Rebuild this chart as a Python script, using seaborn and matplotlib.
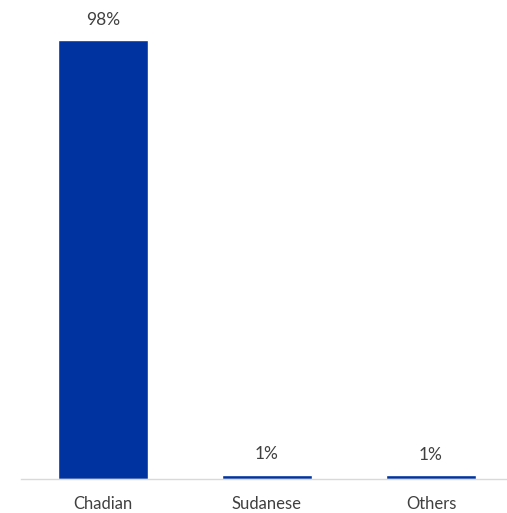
import matplotlib
matplotlib.use("Agg")
import matplotlib.pyplot as plt
import seaborn as sns
import pandas as pd

categories = ["Chadian", "Sudanese", "Others"]
values = [98.0, 1.0, 0.8]
labels = ["98%", "1%", "1%"]

sns.set_theme(style="white")
plt.rcParams['font.family'] = ['Lato', 'DejaVu Sans']

df = pd.DataFrame({"cat": categories, "val": values})

fig = plt.figure(figsize=(5.07, 5.13), dpi=100)
ax = fig.add_axes([21/507, 34/513, 492/507, 439/513])
sns.barplot(data=df, x="cat", y="val", color="#0033A0", saturation=1, width=0.55, ax=ax)
ax.set_xlim(-0.5, 2.5)
ax.set_ylim(0, 98)
for i, (v, lab) in enumerate(zip(values, labels)):
    ax.annotate(lab, (i, v), xytext=(0, 9), textcoords="offset points", ha="center", va="bottom",
                fontsize=12.5, color="#404040", annotation_clip=False)
ax.set_xlabel("")
ax.set_ylabel("")
ax.set_yticks([])
ax.tick_params(axis="x", length=0, pad=12, labelsize=12, labelcolor="#404040")
for s in ["top", "right", "left"]:
    ax.spines[s].set_visible(False)
ax.spines["bottom"].set_color("#d9d9d9")
ax.spines["bottom"].set_linewidth(1)
fig.savefig("out.png", dpi=100)
